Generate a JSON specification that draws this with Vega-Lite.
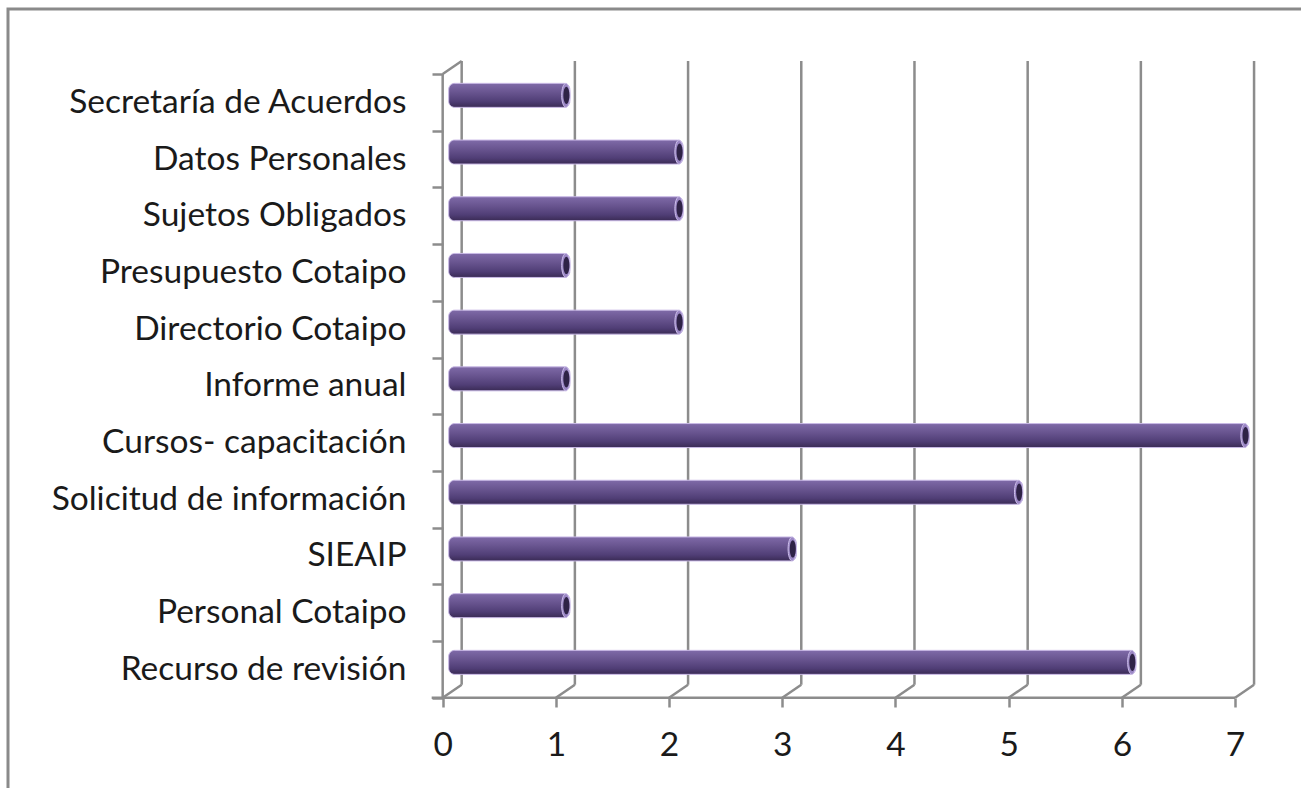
{
  "$schema": "https://vega.github.io/schema/vega-lite/v6.json",
  "width": 1296,
  "height": 782,
  "autosize": {"type": "none"},
  "padding": {"left": 8, "top": 9, "right": -3, "bottom": -3},
  "background": "white",
  "config": {
    "view": {"stroke": "#8a8a8a", "strokeWidth": 3},
    "font": "Lato"
  },
  "datasets": {
    "bars": [
      {"cat": "Secretaría de Acuerdos", "value": 1},
      {"cat": "Datos Personales", "value": 2},
      {"cat": "Sujetos Obligados", "value": 2},
      {"cat": "Presupuesto Cotaipo", "value": 1},
      {"cat": "Directorio Cotaipo", "value": 2},
      {"cat": "Informe anual", "value": 1},
      {"cat": "Cursos- capacitación\u00a0", "value": 7},
      {"cat": "Solicitud de información\u00a0", "value": 5},
      {"cat": "SIEAIP", "value": 3},
      {"cat": "Personal Cotaipo", "value": 1},
      {"cat": "Recurso de revisión\u00a0", "value": 6}
    ],
    "ticks": [{"v": 0}, {"v": 1}, {"v": 2}, {"v": 3}, {"v": 4}, {"v": 5}, {"v": 6}, {"v": 7}],
    "one": [{}]
  },
  "layer": [
    {
      "data": {"name": "ticks"},
      "mark": {"type": "rule", "color": "#8c8c8c", "strokeWidth": 2.5, "xOffset": 19, "yOffset": -13, "y2Offset": -13},
      "encoding": {
        "x": {"field": "v", "type": "quantitative"},
        "y": {"datum": "Secretaría de Acuerdos", "type": "nominal", "bandPosition": 0},
        "y2": {"datum": "Recurso de revisión\u00a0", "bandPosition": 1}
      }
    },
    {
      "data": {"name": "ticks"},
      "mark": {"type": "rule", "color": "#8c8c8c", "strokeWidth": 2.5, "x2Offset": 19, "y2Offset": -13},
      "encoding": {
        "x": {"field": "v", "type": "quantitative"},
        "x2": {"field": "v"},
        "y": {"datum": "Recurso de revisión\u00a0", "type": "nominal", "bandPosition": 1},
        "y2": {"datum": "Recurso de revisión\u00a0", "bandPosition": 1}
      }
    },
    {
      "data": {"name": "one"},
      "mark": {"type": "rule", "color": "#8c8c8c", "strokeWidth": 2.5, "x2Offset": 19, "y2Offset": -13},
      "encoding": {
        "x": {"datum": 0, "type": "quantitative"},
        "x2": {"datum": 0},
        "y": {"datum": "Secretaría de Acuerdos", "type": "nominal", "bandPosition": 0},
        "y2": {"datum": "Secretaría de Acuerdos", "bandPosition": 0}
      }
    },
    {
      "data": {"name": "one"},
      "mark": {"type": "rule", "color": "#8c8c8c", "strokeWidth": 2.5},
      "encoding": {
        "x": {"datum": 0, "type": "quantitative"},
        "y": {"datum": "Secretaría de Acuerdos", "type": "nominal", "bandPosition": 0},
        "y2": {"datum": "Recurso de revisión\u00a0", "bandPosition": 1}
      }
    },
    {
      "data": {"name": "one"},
      "mark": {"type": "rule", "color": "#8c8c8c", "strokeWidth": 2.5, "xOffset": -11},
      "encoding": {
        "x": {"datum": 0, "type": "quantitative"},
        "x2": {"datum": 7},
        "y": {"datum": "Recurso de revisión\u00a0", "type": "nominal", "bandPosition": 1}
      }
    },
    {
      "data": {"name": "bars"},
      "mark": {
        "type": "bar",
        "height": 24,
        "yOffset": -7,
        "xOffset": 14,
        "x2Offset": 6,
        "cornerRadius": 6,
        "stroke": "#c9b9e6",
        "strokeWidth": 1,
        "fill": {
          "gradient": "linear", "x1": 0, "y1": 0, "x2": 0, "y2": 1,
          "stops": [
            {"offset": 0, "color": "#7f6aa8"},
            {"offset": 0.35, "color": "#6a5691"},
            {"offset": 0.75, "color": "#503e76"},
            {"offset": 1, "color": "#3a2b55"}
          ]
        }
      },
      "encoding": {
        "x": {
          "field": "value", "type": "quantitative",
          "scale": {"domain": [-3.84, 7.609], "nice": false, "zero": false},
          "axis": {
            "values": [0, 1, 2, 3, 4, 5, 6, 7],
            "title": null,
            "domain": false,
            "grid": false,
            "offset": -93,
            "tickSize": 9,
            "tickWidth": 2.5,
            "tickColor": "#8c8c8c",
            "labelFont": "Lato",
            "labelFontSize": 33.5,
            "labelColor": "#1a1a1a",
            "labelPadding": 22,
            "format": "d"
          }
        },
        "x2": {"datum": 0},
        "y": {
          "field": "cat", "type": "nominal", "sort": null,
          "scale": {
            "domain": ["Secretaría de Acuerdos", "Datos Personales", "Sujetos Obligados", "Presupuesto Cotaipo", "Directorio Cotaipo", "Informe anual", "Cursos- capacitación\u00a0", "Solicitud de información\u00a0", "SIEAIP", "Personal Cotaipo", "Recurso de revisión\u00a0"],
            "range": [65, 688.7],
            "paddingInner": 0,
            "paddingOuter": 0
          },
          "axis": {
            "title": null,
            "domain": false,
            "grid": false,
            "offset": -435,
            "tickBand": "extent",
            "tickSize": 11,
            "tickWidth": 2.5,
            "tickColor": "#8c8c8c",
            "labelFont": "Lato",
            "labelFontSize": 33.5,
            "labelColor": "#1a1a1a",
            "labelPadding": 26,
            "labelLimit": 600
          }
        }
      }
    },
    {
      "data": {"name": "bars"},
      "mark": {"type": "point", "shape": "M0,-1A0.35,1 0 1,1 0,1A0.35,1 0 1,1 0,-1Z", "size": 576, "filled": true, "opacity": 1, "fill": "#9a86c4", "stroke": "#cdbfea", "strokeWidth": 1, "xOffset": 10, "yOffset": -7},
      "encoding": {
        "x": {"field": "value", "type": "quantitative"},
        "y": {"field": "cat", "type": "nominal"}
      }
    },
    {
      "data": {"name": "bars"},
      "mark": {"type": "point", "shape": "M0,-1A0.35,1 0 1,1 0,1A0.35,1 0 1,1 0,-1Z", "size": 300, "filled": true, "opacity": 1, "fill": "#2f2347", "strokeWidth": 0, "xOffset": 10.5, "yOffset": -7},
      "encoding": {
        "x": {"field": "value", "type": "quantitative"},
        "y": {"field": "cat", "type": "nominal"}
      }
    }
  ]
}
